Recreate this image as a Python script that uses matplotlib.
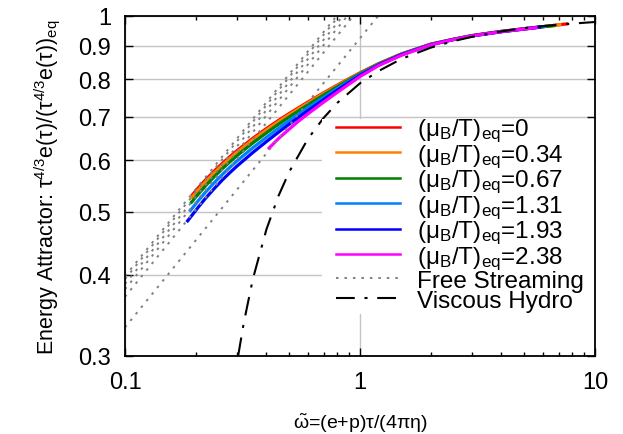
import matplotlib
matplotlib.use('Agg')
import matplotlib.pyplot as plt
from matplotlib.lines import Line2D
from matplotlib.patches import Rectangle
from matplotlib.ticker import FixedLocator, FixedFormatter, NullLocator, NullFormatter, LogLocator

plt.rcParams['font.family'] = ['Liberation Sans', 'DejaVu Sans']
plt.rcParams['mathtext.fontset'] = 'custom'
plt.rcParams['mathtext.rm'] = 'Liberation Sans'
plt.rcParams['mathtext.it'] = 'Liberation Sans:italic'
plt.rcParams['mathtext.bf'] = 'Liberation Sans:bold'
plt.rcParams['lines.scale_dashes'] = False

# ---------------- data ----------------
mu_values = ['0', '0.34', '0.67', '1.31', '1.93', '2.38']
colors = ['#ff0000', '#ff8000', '#008000', '#0080ff', '#0000ff', '#ff00ff']

x_mu0 = [0.192, 0.205, 0.22, 0.24, 0.26, 0.28, 0.3, 0.35, 0.4, 0.45, 0.5, 0.6, 0.7, 0.8, 0.9, 1.0,
         1.2, 1.5, 2.0, 2.5, 3.0, 4.0, 5.0, 6.0, 7.7]
y_mu0 = [0.529, 0.544, 0.5595, 0.5777, 0.5937, 0.608, 0.6209, 0.6485, 0.6713, 0.6909, 0.708, 0.7373,
         0.7618, 0.7829, 0.8013, 0.8177, 0.8449, 0.8743, 0.9052, 0.921, 0.933, 0.947, 0.956, 0.963, 0.973]

x_mu034 = [0.191, 0.205, 0.22, 0.24, 0.26, 0.28, 0.3, 0.35, 0.4, 0.45, 0.5, 0.6, 0.7, 0.8, 0.9, 1.0,
           1.2, 1.5, 2.0, 2.5, 3.0, 4.0, 5.0, 6.0, 7.2]
y_mu034 = [0.524, 0.540, 0.5556, 0.5739, 0.590, 0.6043, 0.6173, 0.645, 0.6679, 0.6878, 0.7051, 0.7349,
           0.7598, 0.7813, 0.8002, 0.8169, 0.8445, 0.8741, 0.9051, 0.921, 0.933, 0.947, 0.956, 0.963, 0.970]

x_mu067 = [0.190, 0.205, 0.22, 0.24, 0.26, 0.28, 0.3, 0.35, 0.4, 0.45, 0.5, 0.6, 0.7, 0.8, 0.9, 1.0,
           1.2, 1.5, 2.0, 2.5, 3.0, 4.0, 5.0, 6.0, 6.8]
y_mu067 = [0.515, 0.5321, 0.5479, 0.5663, 0.5825, 0.5969, 0.610, 0.638, 0.6613, 0.6816, 0.6994, 0.730,
           0.7558, 0.7783, 0.7979, 0.8152, 0.8435, 0.8734, 0.9046, 0.921, 0.933, 0.947, 0.956, 0.963, 0.967]

x_mu131 = [0.188, 0.205, 0.22, 0.24, 0.26, 0.28, 0.3, 0.35, 0.4, 0.45, 0.5, 0.6, 0.7, 0.8, 0.9, 1.0,
           1.2, 1.5, 2.0, 2.5, 3.0, 4.0, 5.0, 6.2]
y_mu131 = [0.500, 0.520, 0.5359, 0.5545, 0.571, 0.5856, 0.5989, 0.6272, 0.651, 0.6719, 0.6904, 0.7225,
           0.7495, 0.7734, 0.7943, 0.8128, 0.842, 0.8726, 0.904, 0.920, 0.932, 0.946, 0.955, 0.964]

x_mu193 = [0.183, 0.205, 0.22, 0.24, 0.26, 0.28, 0.3, 0.35, 0.4, 0.45, 0.5, 0.6, 0.7, 0.8, 0.9, 1.0,
           1.2, 1.5, 2.0, 2.5, 3.0, 4.0, 5.0, 5.9]
y_mu193 = [0.482, 0.5081, 0.5243, 0.543, 0.5599, 0.5746, 0.588, 0.6167, 0.6411, 0.6626, 0.6818, 0.7152,
           0.7435, 0.7688, 0.7909, 0.8103, 0.8407, 0.8717, 0.9034, 0.920, 0.932, 0.946, 0.955, 0.962]

x_mu238 = [0.406, 0.45, 0.5, 0.55, 0.6, 0.7, 0.8, 0.9, 1.0, 1.2, 1.5, 2.0, 2.5, 3.0, 4.0, 5.0, 5.7]
y_mu238 = [0.624, 0.648, 0.670, 0.690, 0.707, 0.737, 0.763, 0.786, 0.807, 0.839, 0.870, 0.903, 0.920,
           0.932, 0.946, 0.955, 0.960]

series_x = [x_mu0, x_mu034, x_mu067, x_mu131, x_mu193, x_mu238]
series_y = [y_mu0, y_mu034, y_mu067, y_mu131, y_mu193, y_mu238]

# free streaming: straight lines in log-log, from the left edge up to y = 1
fs_x_start = [0.1, 0.1, 0.1, 0.1, 0.1, 0.1]
fs_y_start = [0.398, 0.394, 0.387, 0.380, 0.370, 0.332]
fs_x_end = [0.795, 0.813, 0.846, 0.883, 0.936, 1.194]
fs_y_end = [1.0, 1.0, 1.0, 1.0, 1.0, 1.0]

# viscous hydro
vh_x = [0.303, 0.32, 0.35, 0.4, 0.45, 0.5, 0.6, 0.7, 0.8, 1.0, 1.2, 1.5, 2.0, 2.5, 3.0, 4.0, 5.0, 7.0, 10.0]
vh_y = [0.300, 0.337, 0.394, 0.470, 0.529, 0.576, 0.647, 0.697, 0.735, 0.788, 0.823, 0.859, 0.894, 0.915,
        0.929, 0.947, 0.958, 0.970, 0.979]

x_ticks = [0.1, 1, 10]
x_tick_labels = ['0.1', '1', '10']
y_ticks = [0.3, 0.4, 0.5, 0.6, 0.7, 0.8, 0.9, 1.0]
y_tick_labels = ['0.3', '0.4', '0.5', '0.6', '0.7', '0.8', '0.9', '1']

# ---------------- figure ----------------
W, H = 623, 435
fig = plt.figure(figsize=(W / 100, H / 100), dpi=100)
ax = fig.add_axes([125 / W, 1 - 357 / H, 470 / W, 340 / H])
ax.set_xscale('log')
ax.set_yscale('log')
ax.set_xlim(0.1, 10)
ax.set_ylim(0.3, 1.0)

for xs, ys, c in zip(series_x, series_y, colors):
    ax.plot(xs, ys, color=c, lw=2.3, solid_capstyle='butt', solid_joinstyle='round', zorder=3)

fs_dashes = (1.8, 4.3)
for x0, y0, x1, y1 in zip(fs_x_start, fs_y_start, fs_x_end, fs_y_end):
    ax.plot([x0, x1], [y0, y1], color='#808080', lw=1.4, dashes=fs_dashes, zorder=4)

vh_dashes = (13.5, 7.0, 2.2, 7.0)
ax.plot(vh_x, vh_y, color='black', lw=1.5, dashes=vh_dashes, zorder=5)

ax.xaxis.set_major_locator(FixedLocator(x_ticks))
ax.xaxis.set_major_formatter(FixedFormatter(x_tick_labels))
ax.xaxis.set_minor_locator(LogLocator(base=10, subs=[2, 3, 4, 5, 6, 7, 8, 9]))
ax.xaxis.set_minor_formatter(NullFormatter())
ax.yaxis.set_major_locator(FixedLocator(y_ticks))
ax.yaxis.set_major_formatter(FixedFormatter(y_tick_labels))
ax.yaxis.set_minor_locator(NullLocator())

ax.grid(True, which='major', color='#c4c4c4', lw=1.0, zorder=0)
ax.set_axisbelow(True)
for s in ax.spines.values():
    s.set_linewidth(1.3)
    s.set_zorder(7)

ax.tick_params(which='both', direction='in', top=True, right=True, width=1.0)
ax.tick_params(which='major', length=5.5, labelsize=17)
ax.tick_params(which='minor', length=3)
ax.tick_params(axis='x', which='major', pad=11)
ax.tick_params(axis='y', which='major', pad=10)

ax.set_xlabel(r'$\tilde{\mathrm{\omega}}$=(e+p)τ/(4πη)', fontsize=14, labelpad=12)
ax.set_ylabel('Energy Attractor: τ$^\\mathregular{4/3}$e(τ)/(τ$^\\mathregular{4/3}$e(τ))$_\\mathregular{eq}$',
              fontsize=15.5, labelpad=12)

# opaque key background
bg = Rectangle((322 / W, 1 - 315 / H), (595 - 322) / W, (315 - 120) / H, transform=fig.transFigure,
               facecolor='white', edgecolor='none', zorder=5.5)
ax.add_artist(bg)
bg.set_clip_on(False)

handles = [Line2D([], [], color=c, lw=1.8) for c in colors]
handles.append(Line2D([], [], color='#808080', lw=1.4, dashes=fs_dashes))
handles.append(Line2D([], [], color='black', lw=1.5, dashes=vh_dashes))
labels = ['(μ$_\\mathregular{B}$/T)$_\\mathregular{eq}$=' + m for m in mu_values]
labels += ['Free Streaming', 'Viscous Hydro']

leg = ax.legend(handles, labels, loc='upper left', bbox_to_anchor=(336 / W, 1 - 118 / H),
                bbox_transform=fig.transFigure, borderaxespad=0, borderpad=0, fontsize=17.5,
                frameon=False, labelspacing=-0.08, handlelength=2.63, handletextpad=0.7)
leg.set_zorder(6)

fig.savefig('out.png', dpi=100)
